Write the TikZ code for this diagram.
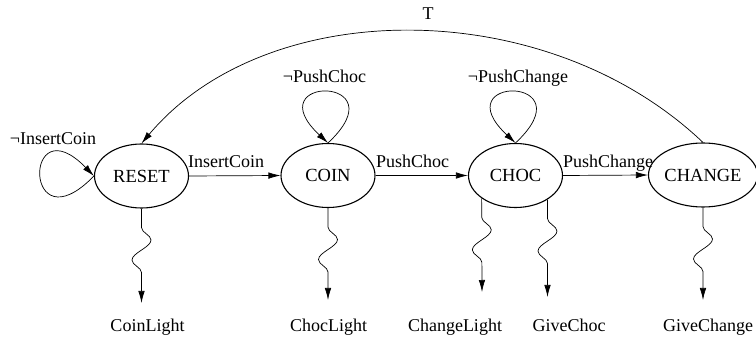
\documentclass[tikz,border=0pt]{standalone}
\usepackage{fontspec}
\setmainfont{Liberation Serif}
\usetikzlibrary{shapes.geometric,arrows.meta,decorations.pathmorphing}
\begin{document}
\begin{tikzpicture}[x=1pt,y=-1pt,
  txt/.style={font=\fontsize{18.5}{20}\selectfont},
  state/.style={ellipse,draw,line width=1.1pt,minimum width=94pt,minimum height=64pt,inner sep=0pt,txt},
  lbl/.style={font=\fontsize{18}{20}\selectfont,inner sep=0pt,anchor=base},
  trans/.style={line width=0.7pt,-{Latex[length=12pt,width=6.5pt]}},
  outp/.style={trans,decorate,decoration={snake,amplitude=9.5pt,segment length=40pt,pre length=19pt,post length=16pt}}]
\useasboundingbox (0,0) rectangle (756,339);
% states
\node[state] (reset) at (141.5,176) {RESET};
\node[state] (coin) at (328,175.5) {COIN};
\node[state] (choc) at (515.5,175.5) {CHOC};
\node[state] (change) at (703,175) {CHANGE};
% transitions
\draw[trans] (reset.east) -- (coin.west);
\draw[trans] (coin.east) -- (choc.west);
\draw[trans] (choc.east) -- (change.west);
\node[lbl,anchor=base west] (lic) at (188,168) {InsertCoin};
\node[lbl,anchor=base west] (lpc) at (376,168) {PushChoc};
\node[lbl,anchor=base west] (lpg) at (563,168) {PushChange};
% self loops
\draw[trans] (reset.west) .. controls +(-71,73) and +(-71,-73) .. (reset.west);
\draw[trans] (coin.north) .. controls +(73,-68) and +(-73,-68) .. (coin.north);
\draw[trans] (choc.north) .. controls +(73,-68) and +(-73,-68) .. (choc.north);
\node[lbl] (lnic) at (53,145) {¬InsertCoin};
\node[lbl] (lnpc) at (324.5,83) {¬PushChoc};
\node[lbl] (lnpg) at (518,83) {¬PushChange};
% T transition
\draw[trans] (change.north) .. controls (547,-6) and (267,-6) .. (reset.north);
\node[lbl] (lt) at (428,20) {T};
% outputs
\coordinate (o1) at (141.5,303);
\coordinate (o2) at (328,300);
\coordinate (o3) at (482,292);
\coordinate (o4) at (547.5,297);
\coordinate (o5) at (703,300);
\draw[outp] (reset.south) -- (o1);
\draw[outp] (coin.south) -- (o2);
\draw[outp] (choc.214) -- (o3);
\draw[outp] (choc.323) -- (o4);
\draw[outp] (change.south) -- (o5);
\node[lbl] (q1) at (147.5,332) {CoinLight};
\node[lbl] (q2) at (328.5,332) {ChocLight};
\node[lbl] (q3) at (455,332) {ChangeLight};
\node[lbl] (q4) at (569,332) {GiveChoc};
\node[lbl] (q5) at (708,332) {GiveChange};
\end{tikzpicture}
\end{document}
